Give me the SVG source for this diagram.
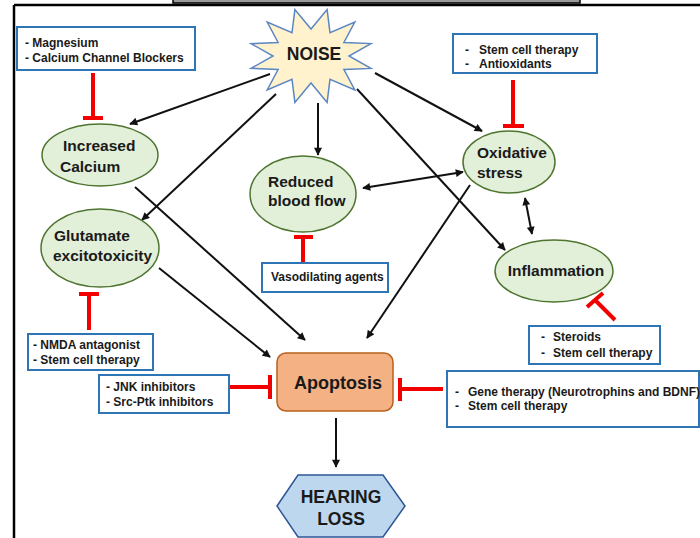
<svg xmlns="http://www.w3.org/2000/svg" width="700" height="538" viewBox="0 0 700 538">
<defs>
<style>
text{font-family:"Liberation Sans",Arial,sans-serif;font-weight:bold;fill:#1a1a1a}
.bx{fill:#fff;stroke:#2E75B6;stroke-width:2}
.bt{font-size:12px}
.el{fill:#E2EFD9;stroke:#4E7530;stroke-width:1.5}
.et{font-size:15.5px}
.ar{stroke:#111;stroke-width:2;fill:none;marker-end:url(#ah)}
.da{stroke:#111;stroke-width:2;fill:none;marker-end:url(#ah);marker-start:url(#ah)}
.inh{stroke:#F20000;stroke-width:4;fill:none}
</style>
<marker id="ah" viewBox="0 0 10 10" refX="9" refY="5" markerWidth="9" markerHeight="8" markerUnits="userSpaceOnUse" orient="auto-start-reverse">
<path d="M0,0 L10,5 L0,10 z" fill="#111"/>
</marker>
</defs>
<rect width="700" height="538" fill="#fff"/>
<!-- frame -->
<rect x="173" y="-3" width="407" height="6" fill="#9a9a9a" stroke="#000" stroke-width="1.5"/>
<line x1="14" y1="5" x2="700" y2="5" stroke="#000" stroke-width="2.5"/>
<line x1="14" y1="5" x2="14" y2="538" stroke="#000" stroke-width="2.5"/>

<g id="connectors">
<line class="ar" x1="270" y1="74" x2="130" y2="124"/>
<line class="ar" x1="276" y1="94" x2="142" y2="220"/>
<line class="ar" x1="318" y1="103" x2="318" y2="155"/>
<line class="ar" x1="375" y1="73" x2="482" y2="131"/>
<line class="ar" x1="357" y1="89" x2="505" y2="250"/>
<line class="ar" x1="135" y1="187" x2="305" y2="340"/>
<line class="ar" x1="159" y1="268" x2="270" y2="357"/>
<line class="ar" x1="470" y1="185" x2="367" y2="338"/>
<line class="da" x1="363" y1="188" x2="463" y2="172"/>
<line class="da" x1="525" y1="198" x2="532" y2="234"/>
<line class="ar" x1="336" y1="418" x2="336" y2="467"/>
<!-- inhibitors -->
<path class="inh" d="M93,73 V118 M83,118 H103"/>
<path class="inh" d="M89,330 V294 M79,294 H99"/>
<path class="inh" d="M303,262 V237 M294,237 H313"/>
<path class="inh" d="M513,80 V126 M503,126 H524"/>
<path class="inh" d="M615,320 L595,300 M587,307 L603,293"/>
<path class="inh" d="M229,387 H270 M270,375 V399"/>
<path class="inh" d="M443,389 H400 M400,378 V401"/>
</g>

<g id="noise">
<polygon points="327.1,9.6 330,32.6 354.8,22.1 343.9,42.5 370.9,43.6 349,56 370.9,68.4 343.9,69.5 354.8,89.9 330,79.4 327.1,102.4 311,83 294.9,102.4 292,79.4 267.2,89.9 278.1,69.5 251.1,68.4 273,56 251.1,43.6 278.1,42.5 267.2,22.1 292,32.6 294.9,9.6 311,29" fill="#FFF2CC" stroke="#5B87C5" stroke-width="1.5"/>
<text x="314" y="60" font-size="17.5" text-anchor="middle">NOISE</text>
</g>

<g id="box-magnesium">
<rect class="bx" x="17" y="27" width="178" height="43"/>
<text class="bt" x="25" y="47">- Magnesium</text>
<text class="bt" x="25" y="62">- Calcium Channel Blockers</text>
</g>

<g id="increased-calcium">
<ellipse class="el" cx="100" cy="155" rx="58" ry="31"/>
<text class="et" x="63" y="151">Increased</text>
<text class="et" x="60" y="172">Calcium</text>
</g>

<g id="glutamate">
<ellipse class="el" cx="100" cy="248" rx="59" ry="39"/>
<text class="et" x="54" y="241">Glutamate</text>
<text class="et" x="53" y="261">excitotoxicity</text>
</g>

<g id="box-nmda">
<rect class="bx" x="28" y="334" width="125" height="36"/>
<text class="bt" x="33" y="349">- NMDA antagonist</text>
<text class="bt" x="33" y="364">- Stem cell therapy</text>
</g>

<g id="reduced-blood-flow">
<ellipse class="el" cx="303" cy="194" rx="53" ry="38"/>
<text class="et" x="268" y="187">Reduced</text>
<text class="et" x="268" y="206">blood flow</text>
</g>

<g id="box-vaso">
<rect class="bx" x="262" y="263" width="126" height="29"/>
<text class="bt" x="271" y="281">Vasodilating agents</text>
</g>

<g id="oxidative-stress">
<ellipse class="el" cx="509" cy="162" rx="46" ry="31"/>
<text class="et" x="477" y="158">Oxidative</text>
<text class="et" x="477" y="178">stress</text>
</g>

<g id="box-antioxidants">
<rect class="bx" x="453" y="34" width="144" height="39"/>
<text class="bt" x="465" y="54">-</text>
<text class="bt" x="479" y="54">Stem cell therapy</text>
<text class="bt" x="465" y="68">-</text>
<text class="bt" x="479" y="68">Antioxidants</text>
</g>

<g id="inflammation">
<ellipse class="el" cx="554" cy="271" rx="59" ry="31"/>
<text class="et" x="556" y="276" text-anchor="middle">Inflammation</text>
</g>

<g id="box-steroids">
<rect class="bx" x="529" y="326" width="131" height="38"/>
<text class="bt" x="541" y="341">-</text>
<text class="bt" x="553" y="341">Steroids</text>
<text class="bt" x="541" y="357">-</text>
<text class="bt" x="553" y="357">Stem cell therapy</text>
</g>

<g id="box-jnk">
<rect class="bx" x="99" y="375" width="130" height="38"/>
<text class="bt" x="106" y="391">- JNK inhibitors</text>
<text class="bt" x="106" y="406">- Src-Ptk inhibitors</text>
</g>

<g id="apoptosis">
<rect x="277" y="353" width="116" height="58" rx="9" fill="#F4B183" stroke="#B8601E" stroke-width="1.5"/>
<text x="338" y="389" font-size="18" text-anchor="middle">Apoptosis</text>
</g>

<g id="box-gene">
<rect class="bx" x="447" y="371" width="252" height="56"/>
<text class="bt" x="455" y="396">-</text>
<text class="bt" x="468" y="396">Gene therapy (Neurotrophins and BDNF)</text>
<text class="bt" x="455" y="410">-</text>
<text class="bt" x="468" y="410">Stem cell therapy</text>
</g>

<g id="hearing-loss">
<polygon points="277,506 298,475 383,475 405,506 383,537 298,537" fill="#BDD7EE" stroke="#2F5597" stroke-width="1.5"/>
<text x="341" y="503" font-size="17.5" text-anchor="middle">HEARING</text>
<text x="341" y="525" font-size="17.5" text-anchor="middle">LOSS</text>
</g>
</svg>
